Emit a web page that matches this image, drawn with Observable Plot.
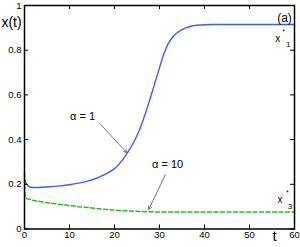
<!DOCTYPE html>
<html>
<head>
<meta charset="utf-8">
<script src="https://cdn.jsdelivr.net/npm/d3@7"></script>
<script src="https://cdn.jsdelivr.net/npm/@observablehq/plot@0.6"></script>
<style>
body { margin: 0; background: #fff; }
svg { font-family: "Liberation Sans", Arial, sans-serif; }
</style>
</head>
<body>
<div id="chart"></div>
<script>
// alpha = 1 (blue, solid)
const tBlue = [0, 0.3, 0.7, 1, 1.5, 2, 3, 5, 8, 10, 12, 14, 16, 18, 20, 21, 22, 23, 24, 25, 26, 27, 28, 29, 30, 31, 32, 33, 34, 35, 36, 37, 38, 40, 42, 45, 50, 55, 60];
const xBlue = [0.224, 0.205, 0.195, 0.19, 0.187, 0.186, 0.186, 0.188, 0.193, 0.198, 0.205, 0.214, 0.227, 0.245, 0.27, 0.29, 0.315, 0.345, 0.378, 0.418, 0.468, 0.525, 0.588, 0.655, 0.722, 0.785, 0.832, 0.86, 0.879, 0.892, 0.901, 0.907, 0.911, 0.914, 0.915, 0.915, 0.915, 0.915, 0.915];
// alpha = 10 (green, dashed)
const tGreen = [0, 0.1, 0.5, 1, 2, 4, 6, 8, 10, 12, 15, 18, 20, 22, 25, 28, 30, 35, 40, 50, 60];
const xGreen = [0.252, 0.15, 0.136, 0.133, 0.128, 0.121, 0.115, 0.11, 0.105, 0.1, 0.094, 0.088, 0.085, 0.082, 0.079, 0.077, 0.076, 0.076, 0.076, 0.076, 0.076];

const xTicks = [0, 10, 20, 30, 40, 50, 60];
const yTicks = [0, 0.2, 0.4, 0.6, 0.8, 1];
const yTickLabels = ["0", "0.2", "0.4", "0.6", "0.8", "1"];

// annotation arrows: from (t1, v1) to tip (t2, v2)
const arrowLabels = ["α = 1", "α = 10"];
const arrowFromT = [16.7, 31.3];
const arrowFromV = [0.473, 0.242];
const arrowToT = [22.7, 27.6];
const arrowToV = [0.342, 0.088];
const arrowLabelT = [12.9, 31.8];
const arrowLabelV = [0.505, 0.288];

const blue = tBlue.map((t, i) => ({t, v: xBlue[i]}));
const green = tGreen.map((t, i) => ({t, v: xGreen[i]}));
const arrows = arrowLabels.map((label, i) => ({label, t1: arrowFromT[i], v1: arrowFromV[i], t2: arrowToT[i], v2: arrowToV[i], lt: arrowLabelT[i], lv: arrowLabelV[i]}));

const W = 300, H = 247, ML = 24, MR = 6, MT = 5, MB = 18.5;
const TICK = 4;

const chart = Plot.plot({
  width: W,
  height: H,
  marginLeft: ML,
  marginRight: MR,
  marginTop: MT,
  marginBottom: MB,
  style: {fontFamily: "'Liberation Sans', Arial, sans-serif", background: "#fff", color: "#000"},
  x: {domain: [0, 60]},
  y: {domain: [0, 1]},
  marks: [
    Plot.line(green, {x: "t", y: "v", stroke: "#2cb82c", strokeWidth: 1.5, strokeDasharray: "4,2.5"}),
    Plot.line(blue, {x: "t", y: "v", stroke: "#3a5ff5", strokeWidth: 1.4, curve: "catmull-rom"}),
    Plot.arrow(arrows, {x1: "t1", y1: "v1", x2: "t2", y2: "v2", stroke: "#555", strokeWidth: 0.8, headLength: 6}),
    Plot.text(arrows, {x: "lt", y: "lv", text: "label", fontSize: 11, fill: "#000"}),
    // inward ticks on all four sides
    Plot.tickX(xTicks, {x: d => d, insetTop: H - MT - MB - TICK, stroke: "#000", strokeWidth: 1}),
    Plot.tickX(xTicks, {x: d => d, insetBottom: H - MT - MB - TICK, stroke: "#000", strokeWidth: 1}),
    Plot.tickY(yTicks, {y: d => d, insetRight: W - ML - MR - TICK, stroke: "#000", strokeWidth: 1}),
    Plot.tickY(yTicks, {y: d => d, insetLeft: W - ML - MR - TICK, stroke: "#000", strokeWidth: 1}),
    // tick labels
    Plot.axisX(xTicks, {anchor: "bottom", tickSize: 0, tickPadding: 2, fontSize: 9.5, label: null, fill: "#000"}),
    Plot.axisY(yTicks, {anchor: "left", tickSize: 0, tickPadding: 3, fontSize: 9.5, label: null, fill: "#000", tickFormat: (d, i) => yTickLabels[i]}),
    Plot.frame({stroke: "#000", strokeWidth: 1.5}),
    // axis titles and labels
    Plot.text(["x(t)"], {frameAnchor: "top-left", dx: -13, dy: 12, text: d => d, fontSize: 14, textAnchor: "middle"}),
    Plot.text(["t"], {frameAnchor: "bottom-right", dx: -20, dy: 12, text: d => d, fontSize: 15, textAnchor: "middle"}),
    Plot.text(["(a)"], {frameAnchor: "top-right", dx: -10, dy: 8, text: d => d, fontSize: 12, textAnchor: "middle"}),
    // equilibrium labels x*_1, x*_3
    Plot.text([0.915], {x: 56.3, y: d => d, dy: 14, text: () => "x", fontSize: 10, textAnchor: "middle"}),
    Plot.text([0.915], {x: 57.6, y: d => d, dy: 7, text: () => "*", fontSize: 7, textAnchor: "middle"}),
    Plot.text([0.915], {x: 58.6, y: d => d, dy: 20, text: () => "1", fontSize: 8, textAnchor: "middle"}),
    Plot.text([0.076], {x: 56.8, y: d => d, dy: -12, text: () => "x", fontSize: 10, textAnchor: "middle"}),
    Plot.text([0.076], {x: 58.4, y: d => d, dy: -19, text: () => "*", fontSize: 7, textAnchor: "middle"}),
    Plot.text([0.076], {x: 59.0, y: d => d, dy: -6, text: () => "3", fontSize: 8, textAnchor: "middle"})
  ]
});
document.getElementById("chart").appendChild(chart);
</script>
</body>
</html>
